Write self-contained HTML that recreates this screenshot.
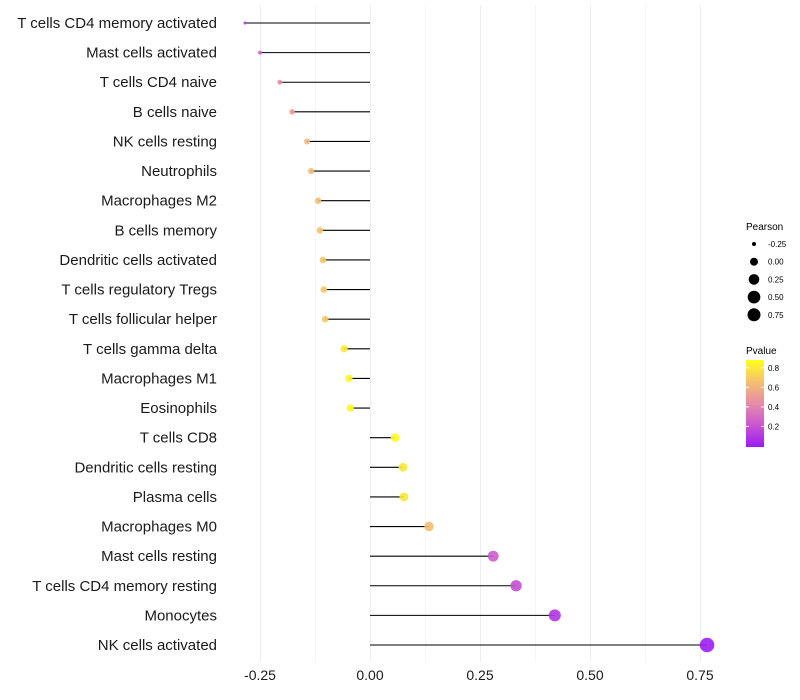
<!DOCTYPE html>
<html><head><meta charset="utf-8"><style>body{margin:0;background:#fff}svg{display:block;font-family:"Liberation Sans",sans-serif}</style></head>
<body>
<svg id="chart" width="800" height="700" viewBox="0 0 800 700" xmlns="http://www.w3.org/2000/svg">
<defs><linearGradient id="pg" x1="0" y1="1" x2="0" y2="0">
<stop offset="0" stop-color="#9B1BF2"/><stop offset="0.25" stop-color="#C955D2"/><stop offset="0.5" stop-color="#E58CA8"/><stop offset="0.75" stop-color="#F5C070"/><stop offset="1" stop-color="#FFFF1A"/></linearGradient></defs>
<g id="grid"></g>
<g id="marks"></g>
<g id="axes"></g>
<g id="legend">
<text x="746" y="230" font-size="10">Pearson</text>
<text x="746" y="354" font-size="10">Pvalue</text>
<rect x="746" y="360" width="18" height="87" fill="url(#pg)"/>
</g>
</svg>
<script>
const categories=["T cells CD4 memory activated","Mast cells activated","T cells CD4 naive","B cells naive","NK cells resting","Neutrophils","Macrophages M2","B cells memory","Dendritic cells activated","T cells regulatory  Tregs ","T cells follicular helper","T cells gamma delta","Macrophages M1","Eosinophils","T cells CD8","Dendritic cells resting","Plasma cells","Macrophages M0","Mast cells resting","T cells CD4 memory resting","Monocytes","NK cells activated"];
const pearson=[-0.284,-0.25,-0.205,-0.177,-0.143,-0.134,-0.118,-0.114,-0.107,-0.105,-0.102,-0.059,-0.048,-0.045,0.057,0.075,0.077,0.134,0.280,0.332,0.420,0.766];
const pvalue=[0.12,0.3,0.45,0.5,0.62,0.64,0.65,0.67,0.68,0.68,0.69,0.8,0.85,0.86,0.86,0.8,0.8,0.65,0.25,0.2,0.1,0.01];
const xTicks=[-0.25,0,0.25,0.5,0.75];
const xTickLabels=["-0.25","0.00","0.25","0.50","0.75"];
const sizeBreaks=[-0.25,0,0.25,0.5,0.75];
const sizeLabels=["-0.25","0.00","0.25","0.50","0.75"];
const pBreaks=[0.2,0.4,0.6,0.8];
const pLabels=["0.2","0.4","0.6","0.8"];

const NS="http://www.w3.org/2000/svg";
const X=v=>370+v*440;
const Y=i=>23+i*(622/21);
const R=v=>Math.sqrt(Math.max(2.25,16+48*v));
const stops=[[0,[155,27,242]],[0.25,[201,85,210]],[0.5,[229,140,168]],[0.75,[245,192,112]],[1,[255,255,26]]];
function col(p){let t=Math.max(0,Math.min(1,p/0.88));for(let k=1;k<stops.length;k++){if(t<=stops[k][0]){const a=stops[k-1],b=stops[k],f=(t-a[0])/(b[0]-a[0]);return"rgb("+a[1].map((c,j)=>Math.round(c+(b[1][j]-c)*f)).join(",")+")";}}return"rgb(255,255,26)";}
function mk(tag,attrs,parent,text){const e=document.createElementNS(NS,tag);for(const k in attrs)e.setAttribute(k,attrs[k]);if(text!=null)e.textContent=text;parent.appendChild(e);return e;}
const grid=document.getElementById('grid'),marks=document.getElementById('marks'),axes=document.getElementById('axes'),legend=document.getElementById('legend');
let gi=0;
for(let v=-0.25;v<=0.76;v+=0.125){const x=Math.round(X(v))+0.5;const l=mk('line',{x1:x,x2:x,y1:5,y2:662,stroke:(gi%2?'#f5f5f5':'#eeeeee'),'stroke-width':1},grid);gi++;

}
xTicks.forEach((v,i)=>{const t=mk('text',{x:X(v),y:680,'font-size':14,'text-anchor':'middle',fill:'#1a1a1a'},axes,xTickLabels[i]);

});
categories.forEach((c,i)=>{
const t=mk('text',{x:217,y:Y(i)+5,'font-size':15,'text-anchor':'end',fill:'#1a1a1a'},axes,c);


const l=mk('line',{x1:X(0),x2:X(pearson[i]),y1:Y(i),y2:Y(i),stroke:'#000','stroke-width':1.1},marks);


const p=mk('circle',{cx:X(pearson[i]),cy:Y(i),r:R(pearson[i]),fill:col(pvalue[i]),'fill-opacity':0.9},marks);


});
sizeBreaks.forEach((v,i)=>{const y=244+i*17.7;
const c=mk('circle',{cx:754,cy:y,r:Math.min(R(v),6.5),fill:'#000'},legend);


const t=mk('text',{x:768,y:y+3,'font-size':8},legend,sizeLabels[i]);

});
pBreaks.forEach((v,i)=>{const y=446-v/0.88*86;
const t=mk('text',{x:768,y:y+3,'font-size':8},legend,pLabels[i]);


mk('line',{x1:746,x2:749,y1:y,y2:y,stroke:'#fff'},legend);
mk('line',{x1:761,x2:764,y1:y,y2:y,stroke:'#fff'},legend);});
</script>
</body></html>
